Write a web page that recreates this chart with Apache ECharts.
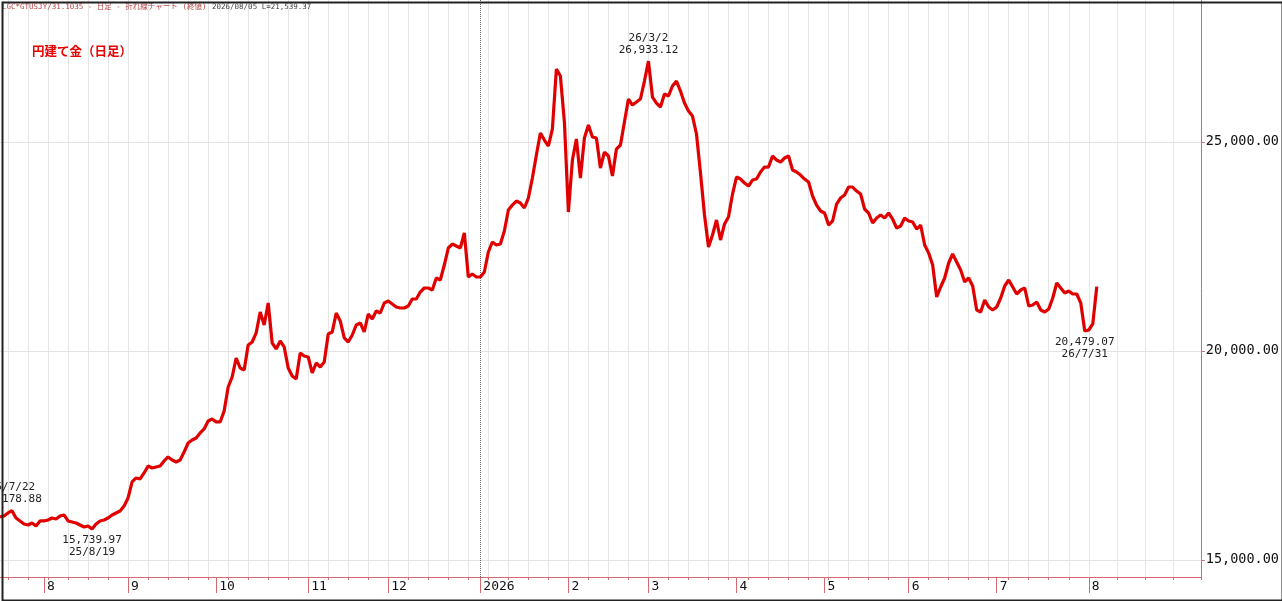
<!DOCTYPE html>
<html>
<head>
<meta charset="utf-8">
<script src="https://cdn.jsdelivr.net/npm/echarts@6/dist/echarts.min.js"></script>
<style>
html,body{margin:0;padding:0;background:#fff;}
#chart{width:1282px;height:601px;}
</style>
</head>
<body>
<div id="chart"></div>
<script>
// ---- data ----
const startDate = '2025-07-17';
const lastDataDate = '2026-08-05';
const axisEndDate = '2026-09-01';
const monthLabels = ['8','9','10','11','12','2026','2','3','4','5','6','7','8'];
const yTicks = [15000, 20000, 25000];
const yearLineDate = '2026-01-01';
const values = [
16029,16053,16125,16178.88,16005,15934,15862,15838,15886,15814,
15934,15934,15958,16005,15982,16053,16077,15934,15910,15886,
15838,15790,15814,15739.97,15862,15934,15958,16005,16077,16125,
16173,16292,16484,16867,16962,16938,17082,17249,17201,17225,
17249,17369,17465,17393,17345,17393,17584,17799,17871,17919,
18039,18134,18326,18374,18302,18302,18565,19139,19378,19833,
19593,19546,20144,20215,20431,20933,20622,21148,20191,20048,
20239,20096,19593,19402,19330,19952,19880,19857,19474,19713,
19617,19737,20407,20455,20909,20718,20311,20215,20383,20622,
20670,20455,20885,20765,20957,20909,21148,21196,21124,21053,
21029,21029,21076,21244,21244,21411,21507,21507,21459,21746,
21698,22057,22464,22559,22512,22464,22823,21770,21842,21770,
21770,21890,22368,22607,22536,22559,22870,23373,23492,23588,
23540,23421,23660,24138,24688,25215,25047,24904,25310,26746,
26578,25478,23325,24569,25071,24138,25095,25406,25119,25095,
24377,24760,24665,24186,24832,24928,25478,26028,25884,25956,
26028,26458,26933.12,26076,25932,25837,26148,26100,26339,26458,
26219,25932,25741,25621,25191,24258,23253,22488,22775,23134,
22655,23038,23205,23755,24162,24114,24019,23947,24090,24114,
24282,24401,24401,24665,24569,24521,24617,24665,24330,24282,
24210,24114,24043,23708,23492,23349,23301,23014,23110,23516,
23660,23732,23923,23923,23827,23755,23397,23301,23062,23181,
23253,23181,23301,23157,22942,22990,23181,23110,23086,22918,
23014,22536,22344,22057,21292,21531,21746,22105,22320,22129,
21938,21651,21746,21555,20981,20933,21220,21053,20981,21053,
21268,21555,21698,21531,21363,21459,21507,21076,21100,21172,
20981,20933,21005,21268,21627,21507,21387,21435,21363,21363,
21148,20479.07,20502,20646,21539.37
];
const extremes = [
  {date:'2025-07-22', side:'top'},
  {date:'2025-08-19', side:'bottom'},
  {date:'2026-03-02', side:'top'},
  {date:'2026-07-31', side:'bottom'}
];

// ---- categories: trading weekdays, then calendar days for the blank future area ----
function fmt(d){const m=d.getUTCMonth()+1, dd=d.getUTCDate();return d.getUTCFullYear()+'-'+(m<10?'0':'')+m+'-'+(dd<10?'0':'')+dd;}
const categories = [];
{
  let d = new Date(startDate+'T00:00:00Z');
  const last = new Date(lastDataDate+'T00:00:00Z');
  const end = new Date(axisEndDate+'T00:00:00Z');
  while (d <= last) { const w=d.getUTCDay(); if (w!==0 && w!==6) categories.push(fmt(d)); d = new Date(d.getTime()+86400000); }
  while (d < end) { categories.push(fmt(d)); d = new Date(d.getTime()+86400000); }
}
const monthStart = {};
{
  let k = 0;
  for (let i = 1; i < values.length; i++) {
    if (categories[i].slice(0,7) !== categories[i-1].slice(0,7)) { monthStart[i] = monthLabels[k++]; }
  }
}
function isMonday(s){return new Date(s+'T00:00:00Z').getUTCDay()===1;}
function fmtNum(v){return v.toLocaleString('en-US',{minimumFractionDigits:2,maximumFractionDigits:2});}
function shortDate(s){const p=s.split('-');return p[0].slice(2)+'/'+(+p[1])+'/'+(+p[2]);}

const AX = '#d66a73';
const MONO = '"DejaVu Sans Mono","Noto Sans CJK JP",monospace';

const chart = echarts.init(document.getElementById('chart'), null, {renderer:'canvas'});
chart.setOption({
  backgroundColor:'#fff',
  animation:false,
  grid:{left:0, right:78, top:0, bottom:24, containLabel:false},
  xAxis:[{
    type:'category', data:categories, boundaryGap:false, position:'bottom',
    axisLine:{show:true, lineStyle:{color:AX, width:1}},
    axisTick:{show:true, length:16, interval:(i)=>monthStart[i]!==undefined, lineStyle:{color:AX}},
    axisLabel:{show:true, interval:(i)=>monthStart[i]!==undefined, formatter:(v,i)=>monthStart[i]||'',
      align:'left', padding:[0,0,0,3], margin:3, color:'#111', fontFamily:MONO, fontSize:13},
    splitLine:{show:true, interval:(i,v)=>isMonday(v), lineStyle:{color:'#e6e6e6', width:1}}
  },{
    type:'category', data:categories, boundaryGap:false, position:'bottom',
    axisLine:{show:false},
    axisTick:{show:true, length:3, interval:(i,v)=>isMonday(v), lineStyle:{color:AX}},
    axisLabel:{show:false}, splitLine:{show:false}
  }],
  yAxis:{
    type:'value', position:'right', min:14593, max:28397, scale:true,
    axisLine:{show:true, lineStyle:{color:AX, width:1}},
    axisTick:{show:true, length:4, customValues:yTicks, lineStyle:{color:AX}},
    axisLabel:{show:true, customValues:yTicks, formatter:(v)=>fmtNum(v), margin:5,
      color:'#111', fontFamily:MONO, fontSize:13.5},
    splitLine:{show:false}
  },
  graphic:[
    {type:'text', left:2, top:3, z:10, style:{text:'LGC*GTUSJY/31.1035 - 日足 - 折れ線チャート (終値)', fill:'#b84444', font:'7.5px '+MONO}},
    {type:'text', left:212, top:3, z:10, style:{text:'2026/08/05 L=21,539.37', fill:'#444', font:'7.5px '+MONO}},
    {type:'text', left:32, top:45, z:10, style:{text:'円建て金（日足）', fill:'#e60000', font:'bold 12.5px "Noto Sans CJK JP",sans-serif'}},
    {type:'rect', left:0, top:0, z:20, shape:{x:1, y:1, width:1280, height:598}, style:{fill:'none', stroke:'#222', lineWidth:2}}
  ],
  series:[{
    type:'line', data:[], z:1, silent:true,
    markLine:{silent:true, symbol:'none', label:{show:false}, animation:false,
      lineStyle:{color:'#e4e4e4', width:1, type:'solid'},
      data: yTicks.map(v=>({yAxis:v})).concat([{xAxis:categories.indexOf(yearLineDate), lineStyle:{color:'#666', type:'dotted', width:1}}])
    }
  },{
    type:'line', data:values, z:5, showSymbol:false, symbol:'none', smooth:false,
    lineStyle:{color:'#e00000', width:3.2}, itemStyle:{color:'#e00000'},
    markPoint:{
      symbol:'circle', symbolSize:1, itemStyle:{color:'rgba(0,0,0,0)'}, silent:true,
      data: extremes.map(e=>{
        const idx = categories.indexOf(e.date); const v = values[idx];
        const txt = e.side==='top' ? shortDate(e.date)+'\n'+fmtNum(v) : fmtNum(v)+'\n'+shortDate(e.date);
        return {coord:[idx, v], value:v, label:{show:true, position:e.side, distance:5, formatter:txt,
          color:'#222', fontFamily:MONO, fontSize:11, lineHeight:12, align:'center'}};
      })
    }
  }]
});
</script>
</body>
</html>
